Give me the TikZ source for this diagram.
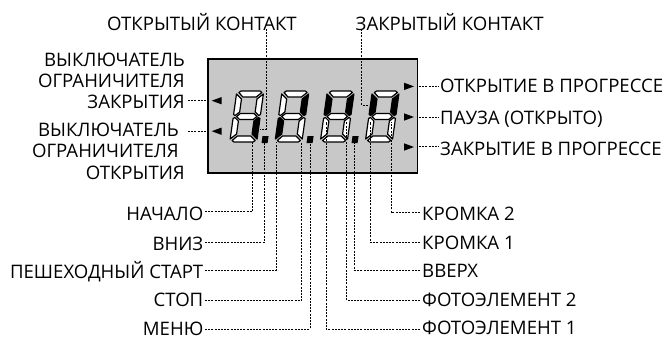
\documentclass[tikz,border=0pt]{standalone}
\usepackage{fontspec}
\setmainfont{Open Sans}
\newcommand{\segshape}[2]{\draw[segline,fill=#1] #2 -- cycle;}
% #1 x origin; #2..#8 colours: top, upper left, upper right, middle, lower left, lower right, bottom
\newcommand{\lcddigit}[8]{%
\begin{scope}[shift={(#1,91)},xslant=0.14]
\segshape{#2}{(4.5,0)--(23.5,0)--(25.5,1.5)--(20.5,6)--(7,6)--(2.5,1.5)}
\segshape{#3}{(0.3,3)--(6,8)--(6,21)--(2,24.5)--(0.3,23.5)}
\segshape{#4}{(27.2,3)--(21.5,8)--(21.5,21)--(25.5,24.5)--(27.2,23.5)}
\segshape{#5}{(3.5,25.5)--(7,22.5)--(20.5,22.5)--(24,25.5)--(20.5,28.5)--(7,28.5)}
\segshape{#6}{(0.3,48)--(6,43)--(6,30)--(2,26.5)--(0.3,27.5)}
\segshape{#7}{(27.2,48)--(21.5,43)--(21.5,30)--(25.5,26.5)--(27.2,27.5)}
\segshape{#8}{(4.5,51)--(23.5,51)--(25.5,49.5)--(20.5,45)--(7,45)--(2.5,49.5)}
\end{scope}}
\tikzset{
  lab/.style={font=\fontsize{18.6}{20}\selectfont,inner sep=0pt,text=black},
  labr/.style={lab,anchor=base east},
  labl/.style={lab,anchor=base west},
  lead/.style={line width=0.8pt,dash pattern=on 2pt off 1.2pt,black},
  segline/.style={line width=1.2pt,line join=round,draw=black},
  tri/.style={fill=black,draw=none},
  panel/.style={draw=black,line width=1.7pt,fill=panelgray},
}
\definecolor{panelgray}{HTML}{C8C8C8}
\begin{document}
\begin{tikzpicture}[x=1pt,y=-1pt]
\useasboundingbox (0,0) rectangle (665,338);
\path[panel] (208,59) rectangle (417.5,173);
% digits
\lcddigit{236.6}{white}{white}{white}{white}{white}{black}{white}
\lcddigit{281.8}{white}{white}{black}{white}{black}{white}{white}
\lcddigit{327.1}{white}{black}{black}{white}{white}{white}{white}
\lcddigit{372.1}{white}{black}{black}{white}{white}{white}{white}
% decimal points
\fill (262.5,136.2) -- (268.6,136.2) -- (267.6,143) -- (261.5,143) -- cycle;
\fill (307.5,136.2) -- (313.6,136.2) -- (312.6,143) -- (306.5,143) -- cycle;
\fill (352.5,136.2) -- (358.6,136.2) -- (357.6,143) -- (351.5,143) -- cycle;
% triangles
\fill[tri] (211.7,100.7) -- (221.7,97) -- (221.7,104.4) -- cycle;
\fill[tri] (211.7,131.2) -- (221.7,127.5) -- (221.7,134.9) -- cycle;
\fill[tri] (414,86.4) -- (404,82.7) -- (404,90.1) -- cycle;
\fill[tri] (414,117) -- (404,113.3) -- (404,120.7) -- cycle;
\fill[tri] (414,147) -- (404,143.3) -- (404,150.7) -- cycle;
% top labels
\node[labl] (oc) at (107,30) {ОТКРЫТЫЙ КОНТАКТ};
\node[labl] (cc) at (355.5,30) {ЗАКРЫТЫЙ КОНТАКТ};
% left labels
\node[labr] (a1) at (185,66.7) {ВЫКЛЮЧАТЕЛЬ};
\node[labr] (a2) at (185,87.6) {ОГРАНИЧИТЕЛЯ};
\node[labr] (a3) at (185,108.7) {ЗАКРЫТИЯ};
\node[labr] (b1) at (179,136.7) {ВЫКЛЮЧАТЕЛЬ};
\node[labr] (b2) at (179,157.7) {ОГРАНИЧИТЕЛЯ};
\node[labr] (b3) at (185,179) {ОТКРЫТИЯ};
% right labels
\node[labl] (r1) at (440,92.7) {ОТКРЫТИЕ В ПРОГРЕССЕ};
\node[labl] (r2) at (440,124) {ПАУЗА (ОТКРЫТО)};
\node[labl] (r3) at (440,155) {ЗАКРЫТИЕ В ПРОГРЕССЕ};
% bottom left
\node[labr] (n1) at (203.5,220.7) {НАЧАЛО};
\node[labr] (n2) at (203.5,250) {ВНИЗ};
\node[labr] (n3) at (203.5,278) {ПЕШЕХОДНЫЙ СТАРТ};
\node[labr] (n4) at (203.5,306.7) {СТОП};
\node[labr] (n5) at (203.5,335) {МЕНЮ};
% bottom right
\node[labl] (m1) at (422,220.7) {КРОМКА 2};
\node[labl] (m2) at (422,249.3) {КРОМКА 1};
\node[labl] (m3) at (422,277.3) {ВВЕРХ};
\node[labl] (m4) at (422,306) {ФОТОЭЛЕМЕНТ 2};
\node[labl] (m5) at (422,334) {ФОТОЭЛЕМЕНТ 1};
% anchors for connectors
\coordinate (ocEnd) at (260,129.3);
\coordinate (ocBend) at (266,129.3);
\coordinate (ccEnd) at (368,105);
\coordinate (ccBend) at (361.7,105);
\coordinate (tl1) at (207.3,100.7);
\coordinate (tl2) at (207.3,131.2);
\coordinate (tr1) at (419,86.6);
\coordinate (tr2) at (419,117);
\coordinate (tr3) at (419,146.8);
\coordinate (s1) at (252.7,142);
\coordinate (s2) at (264.2,143);
\coordinate (s3) at (276.7,142);
\coordinate (s4) at (301.7,142);
\coordinate (s5) at (310,143);
\coordinate (s6) at (326,122);
\coordinate (s7) at (346.7,122);
\coordinate (s8) at (354.3,143);
\coordinate (s9) at (370.7,122);
\coordinate (s10) at (391.3,122);
\coordinate (j1) at (252.7,211.7);
\coordinate (j2) at (264.2,242.3);
\coordinate (j3) at (276.7,270);
\coordinate (j4) at (301.7,300.7);
\coordinate (j5) at (310,329);
\coordinate (k1) at (391.3,212.7);
\coordinate (k2) at (370.7,242.5);
\coordinate (k3) at (354.3,270);
\coordinate (k4) at (346.7,300.7);
\coordinate (k5) at (326,329);
% connectors
\draw[lead] ([yshift=1pt]ocBend |- oc.base) -- (ocBend) -- (ocEnd);
\draw[lead] ([yshift=1pt]ccBend |- cc.base) -- (ccBend) -- (ccEnd);
\draw[lead] ([xshift=3pt]a3.east |- tl1) -- (tl1);
\draw[lead] ([xshift=9pt]b1.east |- tl2) -- (tl2);
\draw[lead] (tr1) -- ([xshift=-1pt]r1.west |- tr1);
\draw[lead] (tr2) -- ([xshift=-1pt]r2.west |- tr2);
\draw[lead] (tr3) -- ([xshift=-1pt]r3.west |- tr3);
\draw[lead] ([xshift=1.5pt]n1.east |- j1) -- (j1) -- (s1);
\draw[lead] ([xshift=1.5pt]n2.east |- j2) -- (j2) -- (s2);
\draw[lead] ([xshift=1.5pt]n3.east |- j3) -- (j3) -- (s3);
\draw[lead] ([xshift=1.5pt]n4.east |- j4) -- (j4) -- (s4);
\draw[lead] ([xshift=1.5pt]n5.east |- j5) -- (j5) -- (s5);
\draw[lead] ([xshift=-2pt]m1.west |- k1) -- (k1) -- (s10);
\draw[lead] ([xshift=-2pt]m2.west |- k2) -- (k2) -- (s9);
\draw[lead] ([xshift=-2pt]m3.west |- k3) -- (k3) -- (s8);
\draw[lead] ([xshift=-2pt]m4.west |- k4) -- (k4) -- (s7);
\draw[lead] ([xshift=-2pt]m5.west |- k5) -- (k5) -- (s6);
\end{tikzpicture}
\end{document}
